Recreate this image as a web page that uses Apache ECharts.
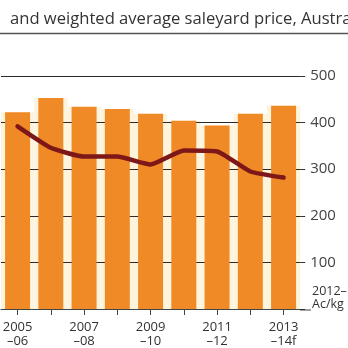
<!DOCTYPE html>
<html><head><meta charset="utf-8">
<script src="https://cdn.jsdelivr.net/npm/echarts@6/dist/echarts.min.js"></script>
<style>html,body{margin:0;padding:0;background:#fff}#c{width:348px;height:348px}</style>
</head><body><div id="c"></div>
<script>
const categories = ['2005\n–06','2006\n–07','2007\n–08','2008\n–09','2009\n–10','2010\n–11','2011\n–12','2012\n–13','2013\n–14f'];
const barValues = [422, 453, 434, 429, 419, 404, 394, 419, 436];
const priceValues = [392, 346, 327, 327, 310, 340, 338, 295, 282];
const yTicks = [0, 100, 200, 300, 400, 500];
const titleText = 'and weighted average saleyard price, Australia';
const unitText = '2012–13\nAc/kg';

const chart = echarts.init(document.getElementById('c'), null, {renderer:'canvas'});
const font = '"Open Sans", "Noto Sans", sans-serif';
chart.setOption({
  animation:false,
  backgroundColor:'#ffffff',
  title:{text:titleText,left:5,top:6,textStyle:{fontFamily:font,fontSize:16.6,fontWeight:'normal',color:'#333'}},
  graphic:[
    {type:'line',shape:{x1:0,y1:33.5,x2:348,y2:33.5},style:{stroke:'#555',lineWidth:1.5}},
    {type:'line',shape:{x1:300,y1:310,x2:311,y2:310},style:{stroke:'#444',lineWidth:1}},
    {type:'text',left:312,top:285,style:{text:unitText,font:'12.5px "Open Sans", sans-serif',fill:'#333',lineHeight:13}}
  ],
  grid:{left:-4.4,width:304.6,top:76,height:234},
  xAxis:[
    {type:'category',data:categories,position:'bottom',z:3,
     axisLine:{show:true,lineStyle:{color:'#444',width:1}},
     axisTick:{show:true,alignWithLabel:true,length:6,lineStyle:{color:'#444'}},
     axisLabel:{interval:0,margin:11,fontFamily:font,fontSize:13,color:'#333',lineHeight:14,
       formatter:(v,i)=> i%2===0 ? v : ''}},
    {type:'category',data:categories,show:false}
  ],
  yAxis:{type:'value',position:'right',min:yTicks[0],max:yTicks[yTicks.length-1],interval:100,z:1,
    axisLine:{show:false},
    axisTick:{show:true,length:5,lineStyle:{color:'#333'}},
    splitLine:{show:true,lineStyle:{color:'#2a2a2a',width:1.2}},
    axisLabel:{margin:10,fontFamily:font,fontSize:15,color:'#444',formatter:v=> v===0?'':String(v)}},
  series:[
    {type:'bar',xAxisIndex:1,data:barValues,barCategoryGap:'0%',z:0,
     itemStyle:{color:'#fdf4de'},silent:true},
    {type:'bar',xAxisIndex:0,data:barValues,barWidth:25,z:2,
     itemStyle:{color:'#f08a26'}},
    {type:'line',xAxisIndex:0,data:priceValues,symbol:'none',z:3,smooth:0.15,
     lineStyle:{color:'#7e1718',width:4.5,join:'round',cap:'round'}}
  ]
});
</script></body></html>
